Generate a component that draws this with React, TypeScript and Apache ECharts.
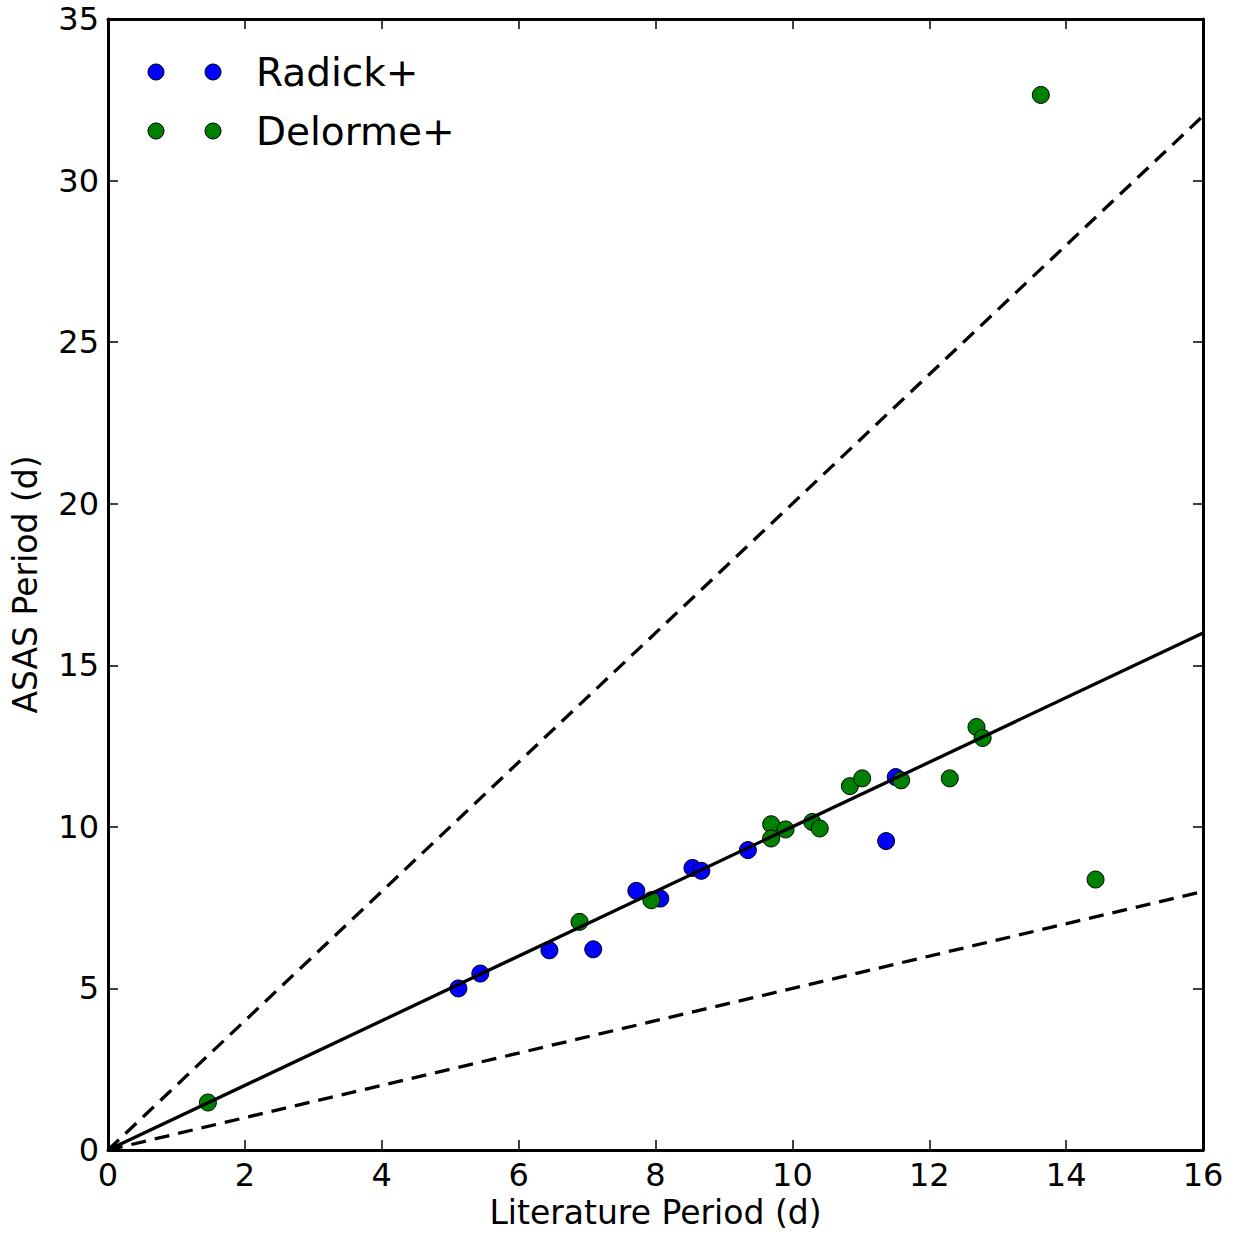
import React, { useEffect, useRef } from "react";
import * as echarts from "echarts";

const radickX = [5.12, 5.44, 6.45, 7.09, 7.72, 8.07, 8.54, 8.67, 9.35, 11.37, 11.51];
const radickY = [5.0, 5.46, 6.18, 6.21, 8.02, 7.78, 8.73, 8.64, 9.28, 9.56, 11.54];

const delormeX = [1.46, 6.89, 7.94, 9.69, 9.90, 9.69, 10.29, 10.40, 10.84, 11.02, 11.59, 12.30, 12.69, 12.78, 13.63, 14.43];
const delormeY = [1.47, 7.06, 7.73, 10.08, 9.92, 9.64, 10.15, 9.95, 11.26, 11.50, 11.44, 11.50, 13.09, 12.75, 32.65, 8.37];

const lineX = [0, 16];
const ratios = [1, 2, 0.5];

const xTicks = [0, 2, 4, 6, 8, 10, 12, 14, 16];
const yTicks = [0, 5, 10, 15, 20, 25, 30, 35];

const seriesNames = ["Radick+", "Delorme+"];
const seriesColors = ["#0000ff", "#008000"];

const FONT = "DejaVu Sans";

export default function App() {
  const ref = useRef<HTMLDivElement>(null);
  useEffect(() => {
    if (!ref.current) return;
    const chart = echarts.init(ref.current, null, { renderer: "svg" });
    const pairs = (xs: number[], ys: number[]) => xs.map((x, i) => [x, ys[i]]);
    const baseAxisLabel = { fontFamily: FONT, fontSize: 32, color: "#000" };
    const tickStyle = { show: true, inside: true, length: 10, lineStyle: { color: "#000", width: 1.5 } };
    const axisLine = { show: true, onZero: false, lineStyle: { color: "#000", width: 3 } };
    const xMin = xTicks[0], xMax = xTicks[xTicks.length - 1];
    const yMin = yTicks[0], yMax = yTicks[yTicks.length - 1];
    const xInterval = xTicks[1] - xTicks[0];
    const yInterval = yTicks[1] - yTicks[0];

    const lineSeries = ratios.map((r, i) => ({
      type: "line",
      data: lineX.map((x) => [x, x * r]),
      showSymbol: false,
      symbol: "none",
      lineStyle: { color: "#000", width: 3.3, type: i === 0 ? "solid" : [15, 9] },
      z: 5,
      silent: true,
    }));

    chart.setOption({
      animation: false,
      backgroundColor: "#fff",
      grid: { left: 108, right: 37, top: 19, bottom: 89, containLabel: false },
      xAxis: [
        {
          type: "value",
          min: xMin,
          max: xMax,
          interval: xInterval,
          position: "bottom",
          name: "Literature Period (d)",
          nameLocation: "middle",
          nameGap: 39,
          nameTextStyle: { fontFamily: FONT, fontSize: 33, color: "#000" },
          axisLine,
          axisTick: tickStyle,
          axisLabel: { ...baseAxisLabel, margin: 9 },
          splitLine: { show: false },
        },
        {
          type: "value",
          min: xMin,
          max: xMax,
          interval: xInterval,
          position: "top",
          axisLine,
          axisTick: tickStyle,
          axisLabel: { show: false },
          splitLine: { show: false },
        },
      ],
      yAxis: [
        {
          type: "value",
          min: yMin,
          max: yMax,
          interval: yInterval,
          position: "left",
          name: "ASAS Period (d)",
          nameLocation: "middle",
          nameGap: 66,
          nameTextStyle: { fontFamily: FONT, fontSize: 33, color: "#000" },
          axisLine,
          axisTick: tickStyle,
          axisLabel: { ...baseAxisLabel, margin: 9 },
          splitLine: { show: false },
        },
        {
          type: "value",
          min: yMin,
          max: yMax,
          interval: yInterval,
          position: "right",
          axisLine,
          axisTick: tickStyle,
          axisLabel: { show: false },
          splitLine: { show: false },
        },
      ],
      series: [
        {
          name: seriesNames[0],
          type: "scatter",
          data: pairs(radickX, radickY),
          symbolSize: 17,
          itemStyle: { color: seriesColors[0], borderColor: "#000", borderWidth: 1, opacity: 1 },
          z: 3,
        },
        {
          name: seriesNames[1],
          type: "scatter",
          data: pairs(delormeX, delormeY),
          symbolSize: 17,
          itemStyle: { color: seriesColors[1], borderColor: "#000", borderWidth: 1, opacity: 1 },
          z: 4,
        },
        ...lineSeries,
      ],
      graphic: seriesNames.flatMap((name, i) => {
        const cy = 72 + i * 59;
        return [
          { type: "circle", shape: { cx: 156, cy, r: 8 }, style: { fill: seriesColors[i], stroke: "#000", lineWidth: 1 } },
          { type: "circle", shape: { cx: 213, cy, r: 8 }, style: { fill: seriesColors[i], stroke: "#000", lineWidth: 1 } },
          {
            type: "text",
            x: 256,
            y: cy,
            style: { text: name, fontFamily: FONT, fontSize: 39, fill: "#000", verticalAlign: "middle" },
          },
        ];
      }),
    });
    return () => chart.dispose();
  }, []);
  return <div ref={ref} style={{ position: "absolute", left: 0, top: 0, width: 1240, height: 1239 }} />;
}
